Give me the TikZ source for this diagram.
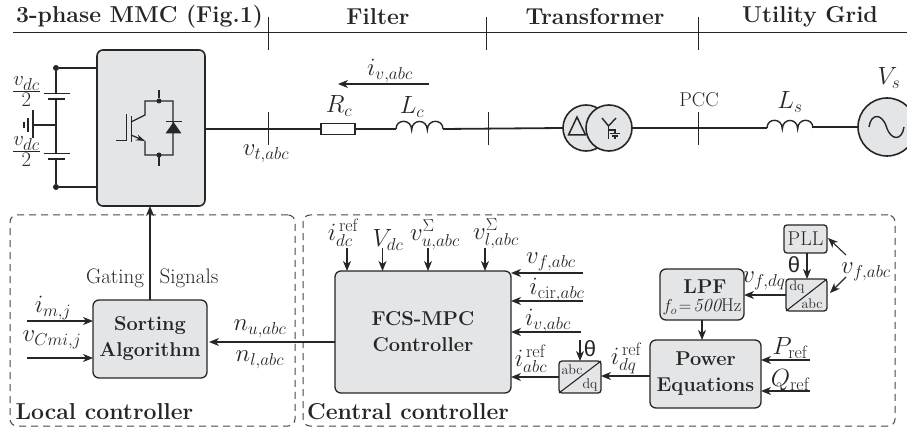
\documentclass[tikz,border=0pt]{standalone}
\usepackage{fontspec}
\usetikzlibrary{arrows.meta,calc,shapes.geometric}
\newfontfamily\thetafont{Liberation Sans}
\DeclareMathSizes{23}{23}{18}{14}
\DeclareMathSizes{21}{21}{16}{12}
\definecolor{ink}{HTML}{262626}
\definecolor{boxgray}{HTML}{E4E5E7}
\newcommand{\szH}{\fontsize{23}{26}\selectfont}
\newcommand{\szB}{\fontsize{20}{23}\selectfont}
\newcommand{\szT}{\fontsize{21}{24}\selectfont}
\newcommand{\szM}{\fontsize{23}{26}\selectfont}
\newcommand{\szS}{\fontsize{14}{16}\selectfont}
\newcommand{\halfdc}{$\frac{\textstyle v_{dc}\rule[-4pt]{0pt}{1pt}}{\textstyle \rule{0pt}{15pt}2}$}
\tikzset{
  wire/.style={draw=ink,line width=1.8pt},
  thin wire/.style={draw=ink,line width=1pt},
  arr/.style={draw=ink,line width=1.1pt,-{Stealth[length=10pt,width=8pt,inset=3pt]}},
  blk/.style={draw=ink,fill=boxgray,line width=1.3pt,rounded corners=6pt,inner sep=0pt,outer sep=0pt,align=center,text=ink,font=\szB\bfseries},
  zone/.style={draw=ink!85,line width=1pt,dash pattern=on 7pt off 5pt,rounded corners=7pt,inner sep=0pt,outer sep=0pt},
  lbl/.style={inner sep=0pt,outer sep=0pt,text=ink,font=\szM},
  head/.style={inner sep=0pt,outer sep=0pt,text=ink,font=\szH\bfseries},
  plain/.style={inner sep=0pt,outer sep=0pt,text=ink,font=\szT},
  dotn/.style={circle,fill=ink,inner sep=0pt,outer sep=0pt,minimum size=6pt},
  round elem/.style={circle,draw=ink,fill=boxgray,line width=1.6pt,inner sep=0pt,outer sep=0pt},
}
% \blockat{name}{x0}{y0}{x1}{y1}{style}{text}
\newcommand{\blockat}[7]{\node[#6,minimum width={(#4-#2)*1pt},minimum height={(#5-#3)*1pt}] (#1) at ({(#2+#4)/2},{(#3+#5)/2}) {#7};}
% \coil{x0}{y}{w}{h}: three bumps
\newcommand{\coil}[4]{\draw[wire,line width=1.4pt] (#1,#2)
  .. controls ({#1},{#2-#4*1.3}) and ({#1+#3},{#2-#4*1.3}) .. ({#1+#3},{#2+1})
  .. controls ({#1+#3},{#2-#4*1.3}) and ({#1+2*#3},{#2-#4*1.3}) .. ({#1+2*#3},{#2+1})
  .. controls ({#1+2*#3},{#2-#4*1.3}) and ({#1+3*#3},{#2-#4*1.3}) .. ({#1+3*#3},{#2});}
\begin{document}
\begin{tikzpicture}[x=1pt,y=-1pt]
\useasboundingbox (0,0) rectangle (907,430);
\clip (0,0) rectangle (907,430);
% header
\node[head] (hmmc) at (139.5,17) {3-phase MMC (Fig.1)};
\node[head] (hfil) at (378,17) {Filter};
\node[head] (htr) at (595,17) {Transformer};
\node[head] (hut) at (810,17) {Utility Grid};
\coordinate (hl) at (13,33); \coordinate (hr) at (907,33);
\draw[thin wire] (hl) -- (hr);
\foreach \x in {268,486,698} \draw[thin wire] (\x,17) -- (\x,50);
% MMC
\blockat{mmc}{97}{50}{205}{206}{blk,line width=1.6pt}{}
\node[dotn] (dt) at (56,68) {};
\node[dotn] (db) at (56,187) {};
\draw[wire] (dt) -- (dt -| mmc.west);
\draw[wire] (db) -- (db -| mmc.west);
\coordinate (c1t) at (56,93.5); \coordinate (c1b) at (56,99);
\coordinate (c2t) at (56,153.5); \coordinate (c2b) at (56,159);
\coordinate (gnd) at (56,125); \coordinate (gp) at (34,125);
\draw[wire] (dt) -- (c1t);
\draw[wire] (c1b) -- (c2t);
\draw[wire] (c2b) -- (db);
\draw[wire] (44,93.5) -- (70,93.5);
\draw[wire] (48,99) -- (65,99);
\draw[wire] (44,153.5) -- (70,153.5);
\draw[wire] (48,159) -- (65,159);
\draw[wire] (gnd) -- (gp);
\draw[wire] (33,110) -- (33,138);
\draw[wire] (28,118) -- (28,132);
\draw[wire,line width=2pt] (24,122) -- (24,128);
\node[lbl,font=\fontsize{21}{24}\selectfont] (vdc1) at (26.5,92) {\halfdc};
\node[lbl,font=\fontsize{21}{24}\selectfont] (vdc2) at (26.5,152) {\halfdc};
% switch
\node[dotn,minimum size=5pt] (s1) at (159,101) {};
\node[dotn,minimum size=5pt] (s2) at (159,155) {};
\draw[draw=ink,line width=1.1pt] (159,90) -- (s1);
\draw[draw=ink,line width=1.1pt] (s2) -- (159,166);
\draw[draw=ink,line width=1.2pt] (131,122) -- (145,115) -- (145,101) -- (173,101) -- (173,155) -- (145,155) -- (145,141);
\draw[draw=ink,line width=1.2pt,-{Stealth[open,length=9pt,width=6pt]}] (131,135) -- (145,141);
\draw[draw=ink,line width=1pt] (131,116) -- (131,142);
\draw[draw=ink,line width=1pt] (116,141) -- (126,141) -- (126,114);
\fill[ink] (173.5,122) -- (165.5,133.5) -- (181.5,133.5) -- cycle;
\draw[draw=ink,line width=1pt] (165.5,122) -- (181.5,122);
% power line
\blockat{res}{321}{123.5}{355}{134.5}{draw=ink,fill=white,line width=1.3pt,inner sep=0pt,outer sep=0pt}{}
\coordinate (lc1) at (396,129); \coordinate (lc2) at (443,129);
\node[round elem,minimum size=46pt] (t1) at (586,128) {};
\node[round elem,minimum size=46pt] (t2) at (609,128) {};
\draw[wire] (mmc.east |- res.west) -- (res.west);
\draw[wire] (res.east) -- (lc1);
\coil{396}{129}{15.67}{8}
\draw[wire] (lc2) -- (t1.west);
\foreach \x in {268,488,698} \draw[thin wire] (\x,112) -- (\x,145);
\node[lbl] (vt) at (266,154) {$v_{t,abc}$};
\node[lbl] (iv) at (390,71) {$i_{v,abc}$};
\coordinate (ia) at (429,84); \coordinate (ib) at (338,84);
\draw[arr] (ia) -- (ib);
\node[lbl] (rc) at (339,106) {$R_c$};
\node[lbl] (lc) at (412,107) {$L_c$};
% transformer symbols
\draw[draw=ink,line width=1.5pt] (577,117) -- (568.5,135) -- (585.5,135) -- cycle;
\draw[draw=ink,line width=1.4pt] (602,118) -- (608.5,126) -- (616,118);
\draw[draw=ink,line width=1.4pt] (608.5,126) -- (608.5,139);
\draw[draw=ink,line width=1.1pt] (608.5,130) -- (615,130) -- (615,133);
\draw[draw=ink,line width=1.1pt] (610,133.5) -- (620,133.5);
\draw[draw=ink,line width=1.1pt] (612,136) -- (618,136);
\draw[draw=ink,line width=1.1pt] (614,138) -- (616,138);
% grid
\node[round elem,minimum size=58pt] (vs) at (887,127) {};
\coordinate (ls1) at (767,128); \coordinate (ls2) at (813,127);
\draw[wire] (t2.east) -- (ls1);
\coil{767}{128}{15.33}{8}
\draw[wire] (ls2) -- (vs.west);
\draw[draw=ink,line width=1.4pt] (869,127) .. controls (871,113) and (882,113) .. (886.5,127) .. controls (891,141) and (902,141) .. (904,127);
\node[plain,font=\fontsize{20}{22}\selectfont] (pcc) at (699,100) {PCC};
\node[lbl] (lsl) at (790,102) {$L_s$};
\node[lbl] (vsl) at (889,78) {$V_s$};
% zones
\blockat{local}{10}{215}{295}{426}{zone}{}
\blockat{central}{303}{215}{895}{426}{zone}{}
\node[head] (lcl) at (104.5,412) {Local controller};
\node[head] (ccl) at (408,412) {Central controller};
% local
\blockat{sort}{93}{300}{207}{378}{blk}{Sorting\\[3pt]Algorithm}
\draw[arr] (sort.north) -- (sort.north |- mmc.south);
\node[plain] (gate) at (115,278) {Gating};
\node[plain] (sig) at (189,278) {Signals};
\coordinate (im) at (27,321); \coordinate (vc) at (27,358);
\draw[arr] (im) -- (im -| sort.west);
\draw[arr] (vc) -- (vc -| sort.west);
\node[lbl] (iml) at (53,308) {$i_{m,j}$};
\node[lbl] (vcl) at (52,340) {$v_{Cmi,j}$};
\node[lbl] (nu) at (260,329) {$n_{u,abc}$};
\node[lbl] (nl) at (260,360) {$n_{l,abc}$};
% FCS
\blockat{fcs}{335}{271}{511}{393}{blk}{FCS-MPC\\[3pt]Controller}
\coordinate (nn) at (209,342);
\draw[arr] (nn -| fcs.west) -- (nn);
\foreach \x/\n in {347/a,382.5/b,428/c,485/d}{
  \coordinate (top\n) at (\x,248);
  \draw[arr] (top\n) -- (top\n |- fcs.north);
}
\node[lbl] (idc) at (343,233) {$i_{dc}^{\,\mathrm{ref}}$};
\node[lbl] (vd) at (388,240) {$V_{dc}$};
\node[lbl] (vu) at (435,235) {$v_{u,abc}^{\Sigma}$};
\node[lbl] (vlw) at (496,234) {$v_{l,abc}^{\Sigma}$};
\coordinate (r1) at (583,273); \coordinate (r2) at (583,301); \coordinate (r3) at (581,332);
\draw[arr] (r1) -- (r1 -| fcs.east);
\draw[arr] (r2) -- (r2 -| fcs.east);
\draw[arr] (r3) -- (r3 -| fcs.east);
\node[lbl] (l1) at (551,262) {$v_{f,abc}$};
\node[lbl] (l2) at (557,290) {$i_{\mathrm{cir},abc}$};
\node[lbl] (l3) at (548,321) {$i_{v,abc}$};
\node[lbl] (l4) at (531,359) {$i_{abc}^{\,\mathrm{ref}}$};
% abc/dq
\blockat{adq}{559}{361}{601}{393}{blk,rounded corners=3pt}{}
\draw[draw=ink,line width=1.1pt] (adq.south west) -- (adq.north east);
\node[plain,font=\szS] (adq1) at (572,370) {abc};
\node[plain,font=\szS] (adq2) at (590,385) {dq};
\draw[arr] (adq.west) -- (adq.west -| fcs.east);
\coordinate (th1) at (580,340);
\draw[arr] (th1) -- (th1 |- adq.north);
\node[plain,font=\thetafont\fontsize{22}{24}\selectfont] (th1l) at (590,349) {θ};
% Power
\blockat{pow}{650}{340}{761}{408}{blk}{Power\\[3pt]Equations}
\coordinate (pw) at (650,376);
\draw[arr] (pw) -- (pw -| adq.east);
\node[lbl] (idq) at (626,358) {$i_{dq}^{\,\mathrm{ref}}$};
\coordinate (pr) at (810,360); \coordinate (qr) at (810,391);
\draw[arr] (pr) -- (pr -| pow.east);
\draw[arr] (qr) -- (qr -| pow.east);
\node[lbl] (prl) at (790,348) {$P_{\mathrm{ref}}$};
\node[lbl] (qrl) at (790,380) {$Q_{\mathrm{ref}}$};
% LPF
\blockat{lpf}{660}{269}{744}{320}{blk}{}
\node[inner sep=0pt,text=ink,font=\szB\bfseries] (lpft) at (705,287) {LPF};
\node[inner sep=0pt,text=ink,font=\fontsize{18.5}{20}\selectfont] (lpff) at (702,307) {$f_o\!=\!\mathit{500}$Hz};
\coordinate (lp) at (702,320);
\draw[arr] (lp) -- (lp |- pow.north);
% dq/abc
\blockat{dqa}{786}{279}{827}{311}{blk,rounded corners=3pt}{}
\draw[draw=ink,line width=1.1pt] (dqa.south west) -- (dqa.north east);
\node[plain,font=\szS] (dqa1) at (797,287) {dq};
\node[plain,font=\szS] (dqa2) at (812,304) {abc};
\coordinate (dl) at (786,295);
\draw[arr] (dl) -- (dl -| lpf.east);
\node[lbl] (vfdq) at (764,281) {$v_{f,dq}$};
% PLL
\blockat{pll}{784}{225}{827}{253}{blk,rounded corners=3pt,font=\fontsize{20}{22}\selectfont}{PLL}
\coordinate (pl) at (807,253);
\draw[arr] (pl) -- (pl |- dqa.north);
\node[plain,font=\thetafont\fontsize{22}{24}\selectfont] (th2l) at (794,265) {θ};
\node[lbl] (vfa) at (866,272) {$v_{f,abc}$};
\coordinate (va1) at (846,255); \coordinate (va2) at (846,277);
\coordinate (pe) at (828,238); \coordinate (de) at (830,293);
\draw[arr] (va1) -- (pe);
\draw[arr] (va2) -- (de);
\end{tikzpicture}
\end{document}
